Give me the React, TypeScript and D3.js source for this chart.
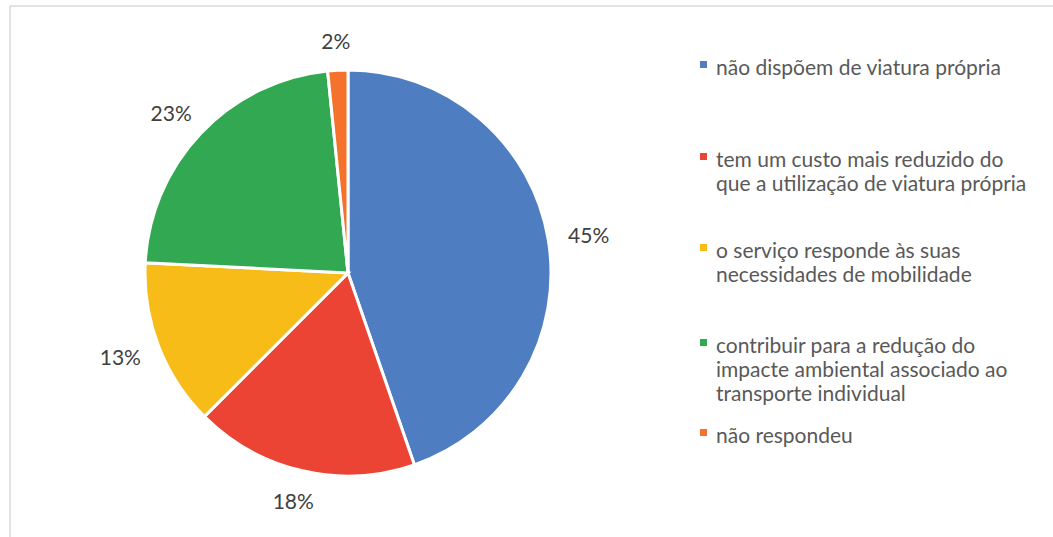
import React from "react";
import * as d3 from "d3";

const categories = [
  "não dispõem de viatura própria",
  "tem um custo mais reduzido do que a utilização de viatura própria",
  "o serviço responde às suas necessidades de mobilidade",
  "contribuir para a redução do impacte ambiental associado ao transporte individual",
  "não respondeu",
];
const legendLines = [
  ["não dispõem de viatura própria"],
  ["tem um custo mais reduzido do", "que a utilização de viatura própria"],
  ["o serviço responde às suas", "necessidades de mobilidade"],
  ["contribuir para a redução do", "impacte ambiental associado ao", "transporte individual"],
  ["não respondeu"],
];
const values = [44.7, 17.8, 13.3, 22.6, 1.6];
const labels = ["45%", "18%", "13%", "23%", "2%"];
const colors = ["#4F7DC1", "#EC4434", "#F8BC18", "#33A852", "#F4722B"];
const legendY = [66, 158, 249, 344, 434];

export default function App() {
  const W = 1053, H = 537;
  const cx = 348, cy = 273, r = 203;
  const pie = d3.pie<number>().sort(null).value((d) => d)(values);
  const arc = d3.arc<d3.PieArcDatum<number>>().innerRadius(0).outerRadius(r);
  const font = "Lato, 'Open Sans', sans-serif";
  const gap = 21, halfW = 20, halfH = 9;
  return (
    <svg width={W} height={H} style={{ position: "absolute", left: 0, top: 0, background: "#fff" }}>
      <rect x={10} y={6} width={1060} height={550} fill="#fff" stroke="#d9d9d9" strokeWidth={1.5} />
      <g transform={`translate(${cx},${cy})`}>
        {pie.map((p, i) => (
          <path key={i} d={arc(p) || ""} fill={colors[i]} stroke="#fff" strokeWidth={3} />
        ))}
        {pie.map((p, i) => {
          const a = (p.startAngle + p.endAngle) / 2;
          const dx = Math.sin(a), dy = -Math.cos(a);
          const x = dx * (r + gap) + dx * halfW;
          const y = dy * (r + gap) + dy * halfH;
          return (
            <text key={i} x={x} y={y} textAnchor="middle" dominantBaseline="central"
              fontFamily={font} fontSize={21} fill="#404040">{labels[i]}</text>
          );
        })}
      </g>
      {categories.map((c, i) => (
        <g key={i}>
          <rect x={700} y={legendY[i] - 5} width={7} height={7} fill={colors[i]} />
          {legendLines[i].map((t, j) => (
            <text key={j} x={716} y={legendY[i] + j * 24} dominantBaseline="central"
              fontFamily={font} fontSize={21} fill="#595959">{t}</text>
          ))}
        </g>
      ))}
    </svg>
  );
}
